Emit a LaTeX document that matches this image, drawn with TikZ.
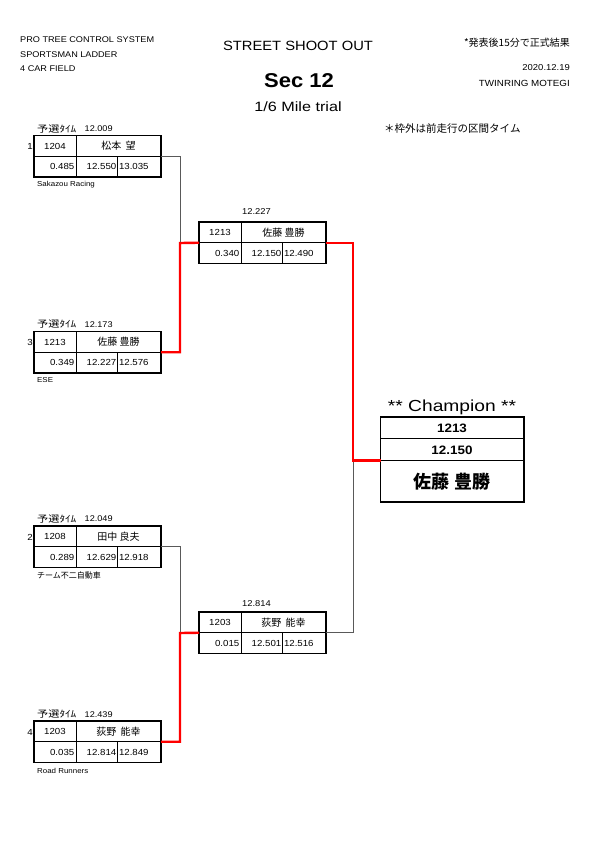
\documentclass[tikz,border=0pt]{standalone}
\usepackage{fontspec}
\setmainfont[FakeStretch=1.1]{Liberation Sans}
\newfontfamily\widesans[FakeStretch=1.2]{Liberation Sans}
\newfontfamily\jp{Noto Sans CJK JP}
\newfontfamily\jpwide[FakeStretch=1.2]{Noto Sans CJK JP}
\usetikzlibrary{calc}
\tikzset{
  frame/.style={draw, line width=1.6pt, minimum width=127pt, minimum height=41.5pt, inner sep=0pt, outer sep=0pt, anchor=north west},
  gridline/.style={line width=0.7pt},
  txt/.style={inner sep=0pt, font=\fontsize{8.8}{10}\selectfont},
  small/.style={inner sep=0pt, font=\fontsize{8.3}{10}\selectfont},
  jtxt/.style={inner sep=0pt, font=\fontsize{10}{11}\jp\selectfont},
  lbl/.style={inner sep=0pt, font=\fontsize{9.3}{10}\jpwide\selectfont, anchor=west},
  team/.style={inner sep=0pt, anchor=west, font=\fontsize{7.2}{8}\selectfont},
  winline/.style={draw=red, line width=2.4pt},
  loseline/.style={draw=black!65, line width=0.8pt},
}
% #1 name, #2 x, #3 y, #4 car number, #5 driver, #6 RT, #7 ET, #8 total
\newcommand\racebox[8]{%
  \node[frame] (#1) at (#2,#3) {};
  \draw[gridline] (#1.west) -- (#1.east);
  \draw[gridline] ($(#1.north west)+(42,0)$) -- ($(#1.south west)+(42,0)$);
  \draw[gridline] ($(#1.west)+(83.5,0)$) -- ($(#1.south west)+(83.5,0)$);
  \node[txt] (#1n) at ($(#1.north west)+(21,10.6)$) {#4};
  \node[jtxt] (#1d) at ($(#1.north west)+(84.5,10.6)$) {#5};
  \node[txt, anchor=east] (#1r) at ($(#1.north west)+(40.5,31.2)$) {#6};
  \node[txt, anchor=east] (#1e) at ($(#1.north west)+(82.5,31.2)$) {#7};
  \node[txt, anchor=west] (#1t) at ($(#1.north west)+(84.8,31.2)$) {#8};
}
\begin{document}
\begin{tikzpicture}[x=1pt,y=-1pt]
\useasboundingbox (0,0) rectangle (595,842);
\fill[white] (0,0) rectangle (595,842);

% header
\node[small, anchor=west] (h1) at (20,40) {PRO TREE CONTROL SYSTEM};
\node[small, anchor=west] (h2) at (20,54.5) {SPORTSMAN LADDER};
\node[small, anchor=west] (h3) at (20,68.5) {4 CAR FIELD};
\node[inner sep=0pt, font=\fontsize{13.4}{15}\selectfont] (title) at (298,46) {STREET SHOOT OUT};
\node[inner sep=0pt, font=\fontsize{20}{23}\selectfont\bfseries] (sec) at (299,81) {Sec 12};
\node[inner sep=0pt, font=\fontsize{13.5}{15}\widesans\selectfont] (trial) at (298,107) {1/6 Mile trial};
\node[inner sep=0pt, font=\fontsize{10}{11}\jp\selectfont, anchor=east] (note1) at (570,43) {*発表後15分で正式結果};
\node[inner sep=0pt, font=\fontsize{8.6}{10}\selectfont, anchor=east] (date) at (570,68) {2020.12.19};
\node[inner sep=0pt, font=\fontsize{8.9}{10}\selectfont, anchor=east] (venue) at (570,83.5) {TWINRING MOTEGI};
\node[inner sep=0pt, font=\fontsize{10.5}{11}\jp\selectfont, anchor=west] (note2) at (384,129) {＊枠外は前走行の区間タイム};

% junction points
\coordinate (j1) at (180,243);
\coordinate (j2) at (180,633);
\coordinate (jc) at (353,460.5);

% seed boxes
\racebox{b1}{34}{135.5}{1204}{松本\ \ 望}{0.485}{12.550}{13.035}
\racebox{b3}{34}{331.5}{1213}{佐藤 豊勝}{0.349}{12.227}{12.576}
\racebox{b2}{34}{526}{1208}{田中 良夫}{0.289}{12.629}{12.918}
\racebox{b4}{34}{721}{1203}{荻野\ \ 能幸}{0.035}{12.814}{12.849}
% semi boxes
\racebox{s1}{199}{222}{1213}{佐藤 豊勝}{0.340}{12.150}{12.490}
\racebox{s2}{199}{612}{1203}{荻野\ \ 能幸}{0.015}{12.501}{12.516}

% seed labels
\node[txt, anchor=east] (q1) at (33,146) {1};
\node[txt, anchor=east] (q3) at (33,342) {3};
\node[txt, anchor=east] (q2) at (33,537) {2};
\node[txt, anchor=east] (q4) at (33,732) {4};
\node[lbl] (l1) at (37,129) {予選ﾀｲﾑ};
\node[small, anchor=west, font=\fontsize{8.3}{9}\selectfont] (t1) at (84.5,129) {12.009};
\node[lbl] (l3) at (37,324.5) {予選ﾀｲﾑ};
\node[small, anchor=west, font=\fontsize{8.3}{9}\selectfont] (t3) at (84.5,324.5) {12.173};
\node[lbl] (l2) at (37,519) {予選ﾀｲﾑ};
\node[small, anchor=west, font=\fontsize{8.3}{9}\selectfont] (t2) at (84.5,519) {12.049};
\node[lbl] (l4) at (37,714.5) {予選ﾀｲﾑ};
\node[small, anchor=west, font=\fontsize{8.3}{9}\selectfont] (t4) at (84.5,714.5) {12.439};
\node[team] (c1) at (37,185) {Sakazou Racing};
\node[team] (c3) at (37,380.5) {ESE};
\node[team, font=\fontsize{8}{9}\jp\selectfont] (c2) at (37,575) {チーム不二自動車};
\node[team] (c4) at (37,770.5) {Road Runners};
\node[inner sep=0pt, font=\fontsize{8.5}{10}\selectfont] (sl1) at (256.5,211.5) {12.227};
\node[inner sep=0pt, font=\fontsize{8.5}{10}\selectfont] (sl2) at (256.5,604) {12.814};

% champion
\node[draw, line width=1.6pt, minimum width=143.5pt, minimum height=85pt, inner sep=0pt, outer sep=0pt, anchor=north west] (ch) at (380.5,417) {};
\draw[gridline] ($(ch.north west)+(0,21.5)$) -- ($(ch.north east)+(0,21.5)$);
\draw[gridline] ($(ch.north west)+(0,43.5)$) -- ($(ch.north east)+(0,43.5)$);
\node[inner sep=0pt, anchor=base, font=\fontsize{16}{18}\widesans\selectfont] (chl) at (452,411.5) {** Champion **};
\node[inner sep=0pt, font=\fontsize{12.2}{13}\selectfont\bfseries] (chn) at (452,428) {1213};
\node[inner sep=0pt, font=\fontsize{12.2}{13}\selectfont\bfseries] (cht) at (452,450) {12.150};
\node[inner sep=0pt, font=\fontsize{18}{19}\jp\bfseries\selectfont] (chd) at (452,481.5) {佐藤 豊勝};

% connectors (losers first, winners on top)
\draw[loseline] (b1.east) -| (j1);
\draw[loseline] (b2.east) -| (j2);
\draw[loseline] (s2.east) -| (jc);
\draw[winline] (b3.east) -| (j1) -- (s1.west);
\draw[winline] (b4.east) -| (j2) -- (s2.west);
\draw[winline] (s1.east) -| (jc) -- (ch.west |- jc);
\end{tikzpicture}
\end{document}
